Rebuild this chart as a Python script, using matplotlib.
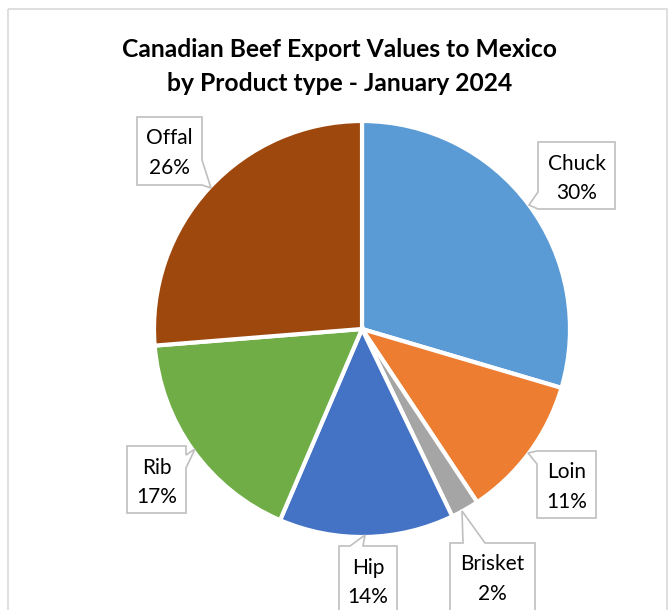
import matplotlib
matplotlib.use('Agg')
import matplotlib.pyplot as plt
from matplotlib.patches import Polygon, Rectangle

# ---- data ----
categories = ['Chuck', 'Loin', 'Brisket', 'Hip', 'Rib', 'Offal']
values = [29.6, 11.1, 2.2, 13.6, 17.3, 26.3]
colors = ['#5B9BD5', '#ED7D31', '#A5A5A5', '#4472C4', '#70AD47', '#9E480E']
title_lines = ['Canadian Beef Export Values to Mexico',
               'by Product type - January 2024']

# ---- layout (pixel coordinates, y downwards) ----
W, H = 671, 610
FONT = 'Lato'
center = (362, 329)
radius = 208

# callout boxes: (x0, y0, x1, y1) and pointer polygon
boxes = {
    'Offal':   ((137, 117, 202, 185), [(137, 117), (202, 117), (202, 160), (211, 188), (202, 185), (137, 185)]),
    'Chuck':   ((538, 142, 615, 209), [(538, 142), (615, 142), (615, 209), (538, 209), (529, 205), (538, 192)]),
    'Loin':    ((537, 451, 596, 518), [(537, 451), (596, 451), (596, 518), (537, 518), (537, 464), (528, 453)]),
    'Brisket': ((450, 543, 535, 610), [(450, 543), (463, 543), (462, 511), (485, 543), (535, 543), (535, 625), (450, 625)]),
    'Rib':     ((127, 446, 186, 513), [(127, 446), (186, 446), (186, 455), (195, 449), (186, 468), (186, 513), (127, 513)]),
    'Hip':     ((339, 546, 397, 613), [(339, 546), (350, 546), (365, 535), (363, 546), (397, 546), (397, 625), (339, 625)]),
}

fig = plt.figure(figsize=(W / 100, H / 100), dpi=100)
ax = fig.add_axes([0, 0, 1, 1])

ax.pie(values, colors=colors, startangle=-90, counterclock=True,
       center=center, radius=radius, frame=True,
       wedgeprops=dict(edgecolor='white', linewidth=3.0))
ax.set_xlim(0, W)
ax.set_ylim(H, 0)
ax.set_aspect('auto')
ax.axis('off')

# chart frame
ax.add_patch(Rectangle((8, 9), 659, 620, fill=False, edgecolor='#D9D9D9',
                       linewidth=1.2, zorder=1))

renderer = fig.canvas.get_renderer()


def fit_size(text, target_px, weight='normal', base=16):
    t = ax.text(0, 0, text, fontsize=base, fontweight=weight, family=FONT)
    w = t.get_window_extent(renderer).width
    t.remove()
    return base * target_px / w


# title
tsize = fit_size(title_lines[0], 436, 'bold')
ax.text(340, 57, title_lines[0], fontsize=tsize, fontweight='bold', family=FONT,
        ha='center', va='baseline', color='black')
ax.text(340, 91, title_lines[1], fontsize=tsize, fontweight='bold', family=FONT,
        ha='center', va='baseline', color='black')

# labels
lsize = fit_size('Chuck', 58)
total = sum(values)
for cat, val in zip(categories, values):
    (x0, y0, x1, y1), poly = boxes[cat]
    ax.add_patch(Polygon(poly, closed=True, facecolor='white',
                         edgecolor='#BFBFBF', linewidth=1.2, zorder=5))
    cx = (x0 + x1) / 2
    ax.text(cx, y0 + 27.5, cat, fontsize=lsize, family=FONT, ha='center',
            va='baseline', color='black', zorder=6)
    ax.text(cx, y0 + 57, f'{val / total * 100:.0f}%', fontsize=lsize,
            family=FONT, ha='center', va='baseline', color='black', zorder=6)

fig.savefig('out.png', dpi=100)
